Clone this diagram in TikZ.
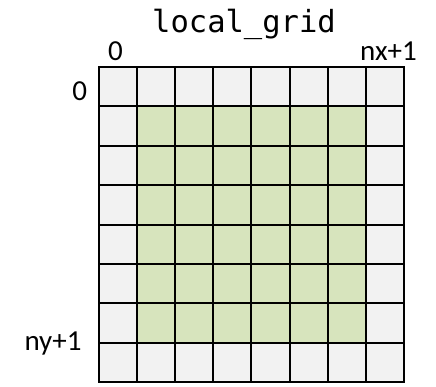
\documentclass[tikz,border=0pt]{standalone}
\usepackage{fontspec}
\setmainfont{Carlito}
\newfontfamily\codefont{DejaVu Sans Mono}
\definecolor{ghostcell}{HTML}{F2F2F2}
\definecolor{innercell}{HTML}{D7E4BD}
\tikzset{
  idx/.style={font=\fontsize{29}{33}\selectfont, inner sep=0pt},
  gridline/.style={line width=2pt, line cap=rect},
}

\begin{document}
\begin{tikzpicture}[x=1pt, y=-1pt]
  \useasboundingbox (0, 0) rectangle (436, 386);
  % cell size, array of 8 x 8 cells starting at (98.5, 67)
  \def\cw{38.2}
  \def\ch{39.4}
  \fill [ghostcell] (98.5, 67) rectangle (98.5+8*\cw, 67+8*\ch);
  \fill [innercell] (98.5+\cw, 67+\ch) rectangle (98.5+7*\cw, 67+7*\ch);
  \foreach \k in {0,...,8} {
    \draw [gridline] (98.5+\k*\cw, 67) -- (98.5+\k*\cw, 67+8*\ch);
    \draw [gridline] (98.5, 67+\k*\ch) -- (98.5+8*\cw, 67+\k*\ch);
  }
  \node (title) [anchor=base, inner sep=0pt, font=\codefont\fontsize{30.5}{35}\selectfont] at (244, 32) {local\_grid};
  \node (X0) [idx, anchor=base] at (115.5, 60) {0};
  \node (XN) [idx, anchor=base east] at (417, 60) {nx+1};
  \node (Y0) [idx, anchor=base east] at (87.3, 100) {0};
  \node (YN) [idx, anchor=base east] at (81.7, 350.7) {ny+1};
\end{tikzpicture}
\end{document}
